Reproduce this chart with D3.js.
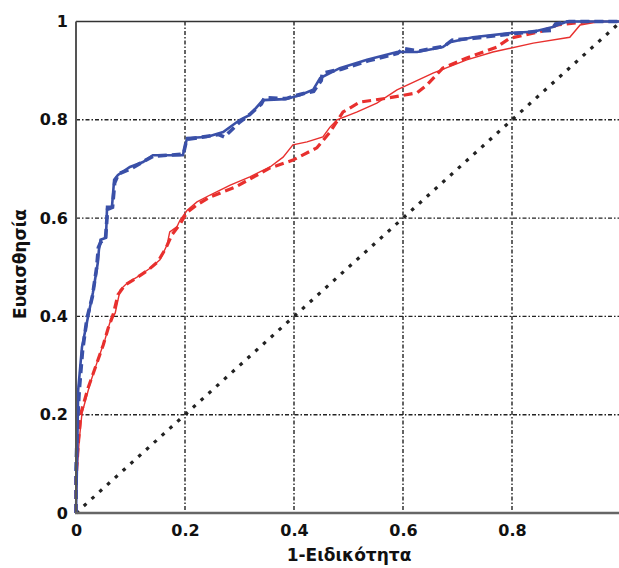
<!DOCTYPE html>
<html>
<head>
<meta charset="utf-8">
<script src="https://cdn.jsdelivr.net/npm/d3@7"></script>
<style>
  html, body { margin: 0; padding: 0; background: #fff; }
  svg { display: block; }
  text { font-family: "DejaVu Sans", Verdana, sans-serif; font-weight: bold; fill: #111; }
</style>
</head>
<body>
<svg id="chart" width="619" height="568"></svg>
<script>
// ---- Data ----
const xTicks = [0, 0.2, 0.4, 0.6, 0.8];
const yTicks = [0, 0.2, 0.4, 0.6, 0.8, 1];
const xTitle = "1-Ειδικότητα";
const yTitle = "Ευαισθησία";

// blue model, solid
const blueSolidFpr = [0,0.002,0.004,0.011,0.022,0.031,0.040,0.042,0.045,0.055,0.057,0.066,0.070,0.077,0.099,0.123,0.141,0.196,0.204,0.240,0.270,0.301,0.319,0.343,0.383,0.411,0.435,0.448,0.484,0.534,0.589,0.626,0.673,0.686,0.728,0.802,0.839,0.875,0.901,1];
const blueSolidTpr = [0,0.108,0.250,0.338,0.399,0.448,0.509,0.535,0.556,0.560,0.623,0.623,0.678,0.688,0.704,0.714,0.728,0.728,0.763,0.765,0.775,0.800,0.810,0.840,0.842,0.850,0.861,0.885,0.905,0.922,0.938,0.938,0.948,0.958,0.968,0.977,0.979,0.989,1,1];
// blue model, dashed
const blueDashFpr = [0,0,0.003,0.006,0.012,0.020,0.030,0.038,0.041,0.046,0.054,0.058,0.067,0.071,0.078,0.100,0.125,0.142,0.197,0.203,0.238,0.262,0.272,0.300,0.320,0.340,0.346,0.385,0.412,0.436,0.450,0.452,0.487,0.536,0.590,0.600,0.630,0.676,0.690,0.730,0.800,0.845,0.872,0.880,0.905,1];
const blueDashTpr = [0,0.090,0.190,0.250,0.330,0.395,0.440,0.500,0.540,0.552,0.556,0.618,0.622,0.672,0.690,0.700,0.716,0.726,0.730,0.760,0.766,0.770,0.765,0.795,0.812,0.832,0.845,0.843,0.852,0.858,0.880,0.895,0.903,0.920,0.935,0.945,0.940,0.950,0.962,0.966,0.975,0.980,0.982,0.995,1,1];
// red model, solid (thin)
const redSolidFpr = [0,0.002,0.006,0.011,0.026,0.040,0.053,0.062,0.072,0.081,0.094,0.112,0.136,0.154,0.167,0.172,0.185,0.191,0.204,0.222,0.246,0.283,0.319,0.356,0.380,0.398,0.424,0.453,0.466,0.479,0.516,0.552,0.589,0.655,0.717,0.765,0.839,0.906,0.925,0.961,1];
const redSolidTpr = [0,0.087,0.149,0.203,0.264,0.311,0.352,0.387,0.407,0.454,0.468,0.480,0.498,0.515,0.545,0.572,0.582,0.596,0.616,0.633,0.647,0.667,0.684,0.704,0.724,0.749,0.755,0.765,0.785,0.800,0.816,0.834,0.861,0.895,0.922,0.938,0.956,0.968,0.993,1,1];
// red model, dashed (thick)
const redDashFpr = [0,0,0.004,0.009,0.022,0.037,0.050,0.059,0.068,0.077,0.090,0.108,0.132,0.150,0.165,0.176,0.191,0.204,0.222,0.246,0.292,0.356,0.398,0.442,0.466,0.490,0.521,0.571,0.626,0.644,0.673,0.717,0.772,0.796,0.851,0.883,0.943,1];
const redDashTpr = [0,0.067,0.138,0.203,0.254,0.301,0.342,0.376,0.403,0.444,0.464,0.476,0.494,0.511,0.539,0.566,0.588,0.612,0.627,0.643,0.663,0.702,0.718,0.743,0.775,0.816,0.836,0.844,0.855,0.871,0.905,0.926,0.948,0.966,0.979,0.993,1,1];
// chance line
const chanceFpr = [0, 1];
const chanceTpr = [0, 1];

// ---- Layout ----
const svg = d3.select("#chart");
const pLeft = 76, pTop = 21.5, pBottom = 513, pRight = 621;
const x = d3.scaleLinear().domain([0, 1]).range([pLeft, pRight]);
const y = d3.scaleLinear().domain([0, 1]).range([pBottom, pTop]);

const zip = (a, b) => a.map((v, i) => [v, b[i]]);

// grid
const gridDash = "4,2,1.5,2";
svg.append("g").selectAll("line").data(xTicks.filter(d => d > 0)).join("line")
  .attr("x1", d => x(d)).attr("x2", d => x(d))
  .attr("y1", pTop).attr("y2", pBottom)
  .attr("stroke", "#222").attr("stroke-width", 1.4).attr("stroke-dasharray", gridDash);
svg.append("g").selectAll("line").data(yTicks.filter(d => d > 0 && d < 1)).join("line")
  .attr("y1", d => y(d)).attr("y2", d => y(d))
  .attr("x1", pLeft).attr("x2", pRight)
  .attr("stroke", "#222").attr("stroke-width", 1.4).attr("stroke-dasharray", gridDash);

// frame
svg.append("line").attr("x1", pLeft).attr("x2", pRight).attr("y1", pTop).attr("y2", pTop)
  .attr("stroke", "#333").attr("stroke-width", 1.5);

// chance diagonal
const line = d3.line().x(d => x(d[0])).y(d => y(d[1]));
svg.append("path").datum(zip(chanceFpr, chanceTpr)).attr("d", line)
  .attr("fill", "none").attr("stroke", "#222").attr("stroke-width", 3.2)
  .attr("stroke-dasharray", "3.5,7");

// curves
svg.append("path").datum(zip(redDashFpr, redDashTpr)).attr("d", line)
  .attr("fill", "none").attr("stroke", "#e8302e").attr("stroke-width", 3.2)
  .attr("stroke-dasharray", "9,5");
svg.append("path").datum(zip(redSolidFpr, redSolidTpr)).attr("d", line)
  .attr("fill", "none").attr("stroke", "#e8302e").attr("stroke-width", 1.4);
svg.append("path").datum(zip(blueDashFpr, blueDashTpr)).attr("d", line)
  .attr("fill", "none").attr("stroke", "#3a50a8").attr("stroke-width", 3.6)
  .attr("stroke-dasharray", "9,5");
svg.append("path").datum(zip(blueSolidFpr, blueSolidTpr)).attr("d", line)
  .attr("fill", "none").attr("stroke", "#3a50a8").attr("stroke-width", 2.6);

// axes lines
svg.append("line").attr("x1", pLeft).attr("x2", pLeft).attr("y1", pTop).attr("y2", pBottom + 1)
  .attr("stroke", "#555").attr("stroke-width", 2);
svg.append("line").attr("x1", pLeft - 1).attr("x2", pRight).attr("y1", pBottom).attr("y2", pBottom)
  .attr("stroke", "#666").attr("stroke-width", 2.5);

// axes (labels via d3 axes)
const xAxis = svg.append("g").attr("transform", `translate(0,${pBottom})`)
  .call(d3.axisBottom(x).tickValues(xTicks).tickSize(0).tickPadding(12).tickFormat(d => d === 0 ? "0" : d3.format(".1f")(d)));
const yAxis = svg.append("g").attr("transform", `translate(${pLeft},0)`)
  .call(d3.axisLeft(y).tickValues(yTicks).tickSize(0).tickPadding(8).tickFormat(d => (d === 0 || d === 1) ? String(d) : d3.format(".1f")(d)));
[xAxis, yAxis].forEach(g => {
  g.select(".domain").remove();
  g.selectAll("text").attr("font-size", 16).attr("font-family", "DejaVu Sans, Verdana, sans-serif")
    .attr("font-weight", "bold").attr("fill", "#111");
});

// titles
svg.append("text").attr("x", 349).attr("y", 561).attr("text-anchor", "middle")
  .attr("font-size", 17).text(xTitle);
svg.append("text").attr("transform", "translate(26,264) rotate(-90)").attr("text-anchor", "middle")
  .attr("font-size", 17).text(yTitle);
</script>
</body>
</html>
